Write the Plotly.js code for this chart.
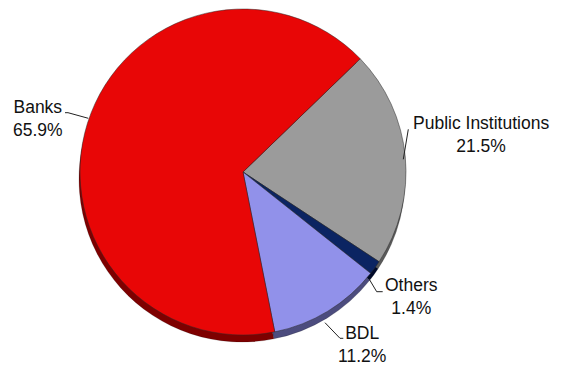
<!DOCTYPE html>
<html>
<head>
<meta charset="utf-8">
<script src="https://cdn.plot.ly/plotly-3.0.1.min.js"></script>
<style>html,body{margin:0;padding:0;background:#fff;}#chart{width:564px;height:365px;}</style>
</head>
<body>
<div id="chart"></div>
<script>
// ---- data ----
const labels = ['Public Institutions', 'Others', 'BDL', 'Banks'];
const values = [21.5, 1.4, 11.2, 65.9];
const sliceColors = ['#9b9b9b', '#0b2462', '#9191ea', '#e80606'];
const shadowColors = ['#5a5a5a', '#000a2a', '#4c4c7e', '#7e0000'];

// ---- layout helpers (pixel -> paper) ----
const W = 564, H = 365;
const px = x => x / W;
const py = y => 1 - y / H;

// pie face box in pixels
const face = {x0: 80, x1: 406, y0: 9, y1: 335};
const shadowOff = {dx: -1, dy: 7};

// label anchor centres (pixels), in label order
const labelPos = [[481, 134.5], [411, 296.5], [362, 344.5], [38, 118]];
// leader lines (pixels), in label order
const leaders = [
  [[408.3, 129.3], [403.3, 159.3]],
  [[369.3, 279.3], [376.7, 291.7], [382.7, 291.7]],
  [[325, 322.7], [340, 338.3], [343.3, 338.3]],
  [[65, 112.7], [68, 112.7], [88.3, 118.3]]
];

const common = {
  type: 'pie',
  labels: labels,
  values: values,
  sort: false,
  direction: 'clockwise',
  rotation: 46,
  textinfo: 'none',
  hoverinfo: 'skip',
  showlegend: false
};

const shadow = Object.assign({}, common, {
  marker: {colors: shadowColors, line: {color: 'rgba(0,0,0,0.35)', width: 0.5}},
  domain: {
    x: [px(face.x0 + shadowOff.dx), px(face.x1 + shadowOff.dx)],
    y: [py(face.y1 + shadowOff.dy), py(face.y0 + shadowOff.dy)]
  }
});
const main = Object.assign({}, common, {
  marker: {colors: sliceColors, line: {color: 'rgba(40,40,40,0.7)', width: 0.7}},
  domain: {x: [px(face.x0), px(face.x1)], y: [py(face.y1), py(face.y0)]}
});

const annotations = labels.map((l, i) => ({
  xref: 'paper', yref: 'paper',
  x: px(labelPos[i][0]), y: py(labelPos[i][1]),
  xanchor: 'center', yanchor: 'middle',
  text: l + '<br>' + values[i].toFixed(1) + '%',
  showarrow: false,
  align: 'center',
  font: {family: 'Liberation Sans, Arial, Helvetica, sans-serif', size: 17.5, color: '#111'}
}));

const shapes = [];
leaders.forEach(pts => {
  for (let k = 0; k < pts.length - 1; k++) {
    shapes.push({
      type: 'line', xref: 'paper', yref: 'paper',
      x0: px(pts[k][0]), y0: py(pts[k][1]),
      x1: px(pts[k + 1][0]), y1: py(pts[k + 1][1]),
      line: {color: '#222', width: 1}
    });
  }
});

Plotly.newPlot('chart', [shadow, main], {
  width: W, height: H,
  margin: {l: 0, r: 0, t: 0, b: 0},
  paper_bgcolor: '#ffffff',
  showlegend: false,
  annotations: annotations,
  shapes: shapes
}, {displayModeBar: false, staticPlot: true});
</script>
</body>
</html>
